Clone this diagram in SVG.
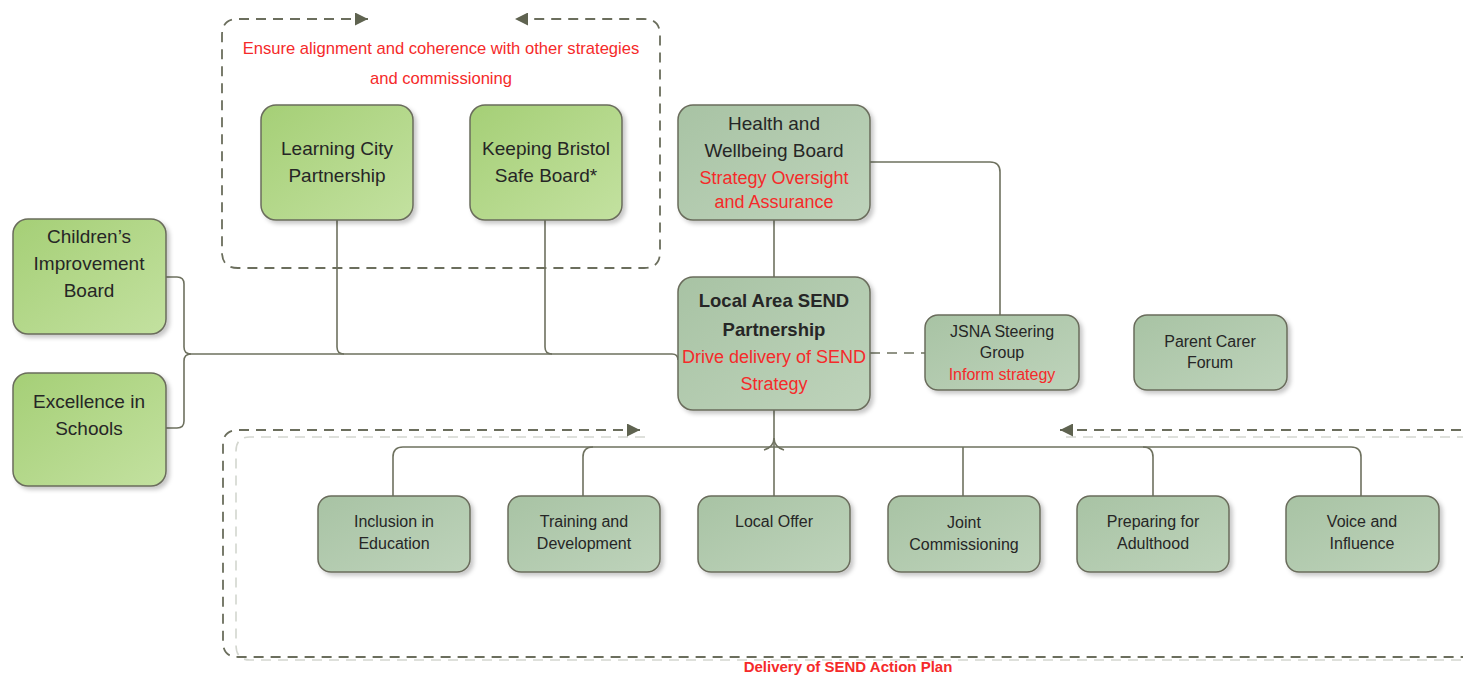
<svg xmlns="http://www.w3.org/2000/svg" width="1463" height="675" viewBox="0 0 1463 675">
<style>
.t{font-family:"Liberation Sans",Arial,sans-serif;fill:#262626;text-anchor:middle}
.r{fill:#f52a2a}
.b{font-weight:bold}
.green{fill:url(#gGreen);stroke:#6a6c5c;stroke-width:1.5;filter:url(#sh)}
.grey{fill:url(#gGrey);stroke:#6a6c5c;stroke-width:1.5;filter:url(#sh)}
.con{fill:none;stroke:#6e715f;stroke-width:1.6}
.dash{fill:none;stroke:#6b6e5d;stroke-width:1.8;stroke-dasharray:10 7}
.dashL{fill:none;stroke:#d3d6cf;stroke-width:1.6;stroke-dasharray:10 7}
</style>
<defs>
<linearGradient id="gGreen" x1="0" y1="0" x2="1" y2="1">
<stop offset="0" stop-color="#a5cf76"/><stop offset="1" stop-color="#c3e1a0"/>
</linearGradient>
<linearGradient id="gGrey" x1="0" y1="0" x2="1" y2="1">
<stop offset="0" stop-color="#a8c3a4"/><stop offset="1" stop-color="#bed3bb"/>
</linearGradient>
<filter id="sh" x="-10%" y="-10%" width="125%" height="130%">
<feDropShadow dx="3" dy="3" stdDeviation="2" flood-color="#000" flood-opacity="0.22"/>
</filter>
<marker id="arr" viewBox="0 0 10 10" refX="10" refY="5" markerUnits="userSpaceOnUse" markerWidth="14" markerHeight="13" orient="auto-start-reverse">
<path d="M0,0 L10,5 L0,10 z" fill="#5f6350"/>
</marker>
</defs>

<g id="frames">
<path class="dash" d="M368,19 H238 Q222,19 222,35 V252 Q222,268 238,268 H644 Q660,268 660,252 V35 Q660,19 644,19 H515" marker-start="url(#arr)" marker-end="url(#arr)"/>
<text class="t r" x="441" y="54" font-size="16.6">Ensure alignment and coherence with other strategies</text>
<text class="t r" x="441" y="84" font-size="16.6">and commissioning</text>
<path class="dashL" d="M645,437 H250 Q236,437 236,451 V645 Q236,660 250,660 H1463"/>
<path class="dashL" d="M1066,437 H1463"/>
<path class="dash" d="M640,430 H238 Q223,430 223,445 V642 Q223,657 238,657 H1463" marker-start="url(#arr)"/>
<path class="dash" d="M1060,430 H1463" marker-start="url(#arr)"/>
<text class="t r b" x="848" y="672" font-size="15">Delivery of SEND Action Plan</text>
</g>

<g id="connectors">
<path class="con" d="M166,277 H177 Q184,277 184,284 V347 Q184,354 191,354"/>
<path class="con" d="M166,428 H177 Q184,428 184,421 V361 Q184,354 191,354"/>
<path class="con" d="M191,354 H672 Q678,354 678,360"/>
<path class="con" d="M337,220 V347 Q337,354 344,354"/>
<path class="con" d="M545,220 V347 Q545,354 552,354"/>
<path class="con" d="M774,220 V277"/>
<path class="con" d="M870,162 H990 Q1000,162 1000,172 V315"/>
<path class="con" d="M870,353 H925" stroke-dasharray="10 7"/>
<path class="con" d="M774,410 V496"/>
<path class="con" d="M393,496 V457 Q393,447 403,447 H1351 Q1361,447 1361,457 V496"/>
<path class="con" d="M583,496 V457 Q583,447 593,447"/>
<path class="con" d="M963,447 V496"/>
<path class="con" d="M1153,496 V457 Q1153,447 1143,447"/>
<path class="con" d="M764,450 Q774,447 774,438 Q774,447 784,450"/>
</g>

<g id="n-learning">
<rect class="green" x="261" y="105" width="152" height="115" rx="15"/>
<text class="t" x="337" y="155" font-size="19">Learning City</text>
<text class="t" x="337" y="182" font-size="19">Partnership</text>
</g>
<g id="n-keeping">
<rect class="green" x="470" y="105" width="152" height="115" rx="15"/>
<text class="t" x="546" y="155" font-size="19">Keeping Bristol</text>
<text class="t" x="546" y="182" font-size="19">Safe Board*</text>
</g>
<g id="n-hwb">
<rect class="grey" x="678" y="105" width="192" height="115" rx="15"/>
<text class="t" x="774" y="130" font-size="19">Health and</text>
<text class="t" x="774" y="157" font-size="19">Wellbeing Board</text>
<text class="t r" x="774" y="184" font-size="18">Strategy Oversight</text>
<text class="t r" x="774" y="208" font-size="18">and Assurance</text>
</g>
<g id="n-send">
<rect class="grey" x="678" y="277" width="192" height="133" rx="15"/>
<text class="t b" x="774" y="307" font-size="18.5">Local Area SEND</text>
<text class="t b" x="774" y="336" font-size="18.5">Partnership</text>
<text class="t r" x="774" y="363" font-size="18">Drive delivery of SEND</text>
<text class="t r" x="774" y="390" font-size="18">Strategy</text>
</g>
<g id="n-jsna">
<rect class="grey" x="925" y="315" width="154" height="75" rx="13"/>
<text class="t" x="1002" y="337" font-size="16">JSNA Steering</text>
<text class="t" x="1002" y="358" font-size="16">Group</text>
<text class="t r" x="1002" y="380" font-size="16">Inform strategy</text>
</g>
<g id="n-parent">
<rect class="grey" x="1134" y="315" width="153" height="75" rx="13"/>
<text class="t" x="1210" y="347" font-size="16">Parent Carer</text>
<text class="t" x="1210" y="368" font-size="16">Forum</text>
</g>
<g id="n-cib">
<rect class="green" x="13" y="219" width="153" height="115" rx="15"/>
<text class="t" x="89" y="243" font-size="19">Children’s</text>
<text class="t" x="89" y="270" font-size="19">Improvement</text>
<text class="t" x="89" y="297" font-size="19">Board</text>
</g>
<g id="n-eis">
<rect class="green" x="13" y="373" width="153" height="113" rx="15"/>
<text class="t" x="89" y="408" font-size="19">Excellence in</text>
<text class="t" x="89" y="435" font-size="19">Schools</text>
</g>
<g id="n-inclusion">
<rect class="grey" x="318" y="496" width="152" height="76" rx="13"/>
<text class="t" x="394" y="527" font-size="16">Inclusion in</text>
<text class="t" x="394" y="549" font-size="16">Education</text>
</g>
<g id="n-training">
<rect class="grey" x="508" y="496" width="152" height="76" rx="13"/>
<text class="t" x="584" y="527" font-size="16">Training and</text>
<text class="t" x="584" y="549" font-size="16">Development</text>
</g>
<g id="n-localoffer">
<rect class="grey" x="698" y="496" width="152" height="76" rx="13"/>
<text class="t" x="774" y="527" font-size="16">Local Offer</text>
</g>
<g id="n-joint">
<rect class="grey" x="888" y="496" width="152" height="76" rx="13"/>
<text class="t" x="964" y="528" font-size="16">Joint</text>
<text class="t" x="964" y="550" font-size="16">Commissioning</text>
</g>
<g id="n-adulthood">
<rect class="grey" x="1077" y="496" width="152" height="76" rx="13"/>
<text class="t" x="1153" y="527" font-size="16">Preparing for</text>
<text class="t" x="1153" y="549" font-size="16">Adulthood</text>
</g>
<g id="n-voice">
<rect class="grey" x="1286" y="496" width="153" height="76" rx="13"/>
<text class="t" x="1362" y="527" font-size="16">Voice and</text>
<text class="t" x="1362" y="549" font-size="16">Influence</text>
</g>
</svg>
